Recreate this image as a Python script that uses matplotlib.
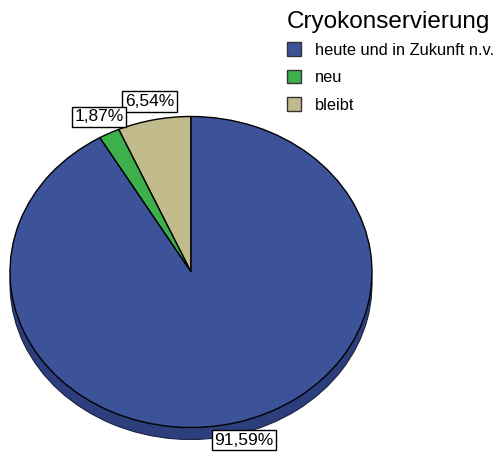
import matplotlib
matplotlib.use("Agg")
import matplotlib.pyplot as plt
from matplotlib.patches import Patch

plt.rcParams['font.family'] = ['Liberation Sans', 'DejaVu Sans']

# Daten (Reihenfolge im Kreis: gegen den Uhrzeigersinn ab 12 Uhr)
categories = ["bleibt", "neu", "heute und in Zukunft n.v."]
values = [6.54, 1.87, 91.59]
colors = ["#C2BB8C", "#3DB04C", "#3D5399"]
side_colors = ["#8E8863", "#2A7E36", "#2C3E7C"]
legend_order = ["heute und in Zukunft n.v.", "neu", "bleibt"]
title = "Cryokonservierung"

W, H = 502, 458
fig = plt.figure(figsize=(W / 100, H / 100), dpi=100)
ax = fig.add_axes([0, 0, 1, 1])

# Pixel-Geometrie der Ellipse
cx, cy = 191, 458 - 272
sx, sy = 181, 155.5
depth = 12 / sy

# Seitenfläche (3D-Rand)
ax.pie(values, colors=side_colors, startangle=90, counterclock=True,
       center=(0, -depth), wedgeprops=dict(edgecolor="#1a2240", linewidth=0.8))

# Oberseite
wedges, texts, autotexts = ax.pie(
    values, colors=colors, startangle=90, counterclock=True,
    autopct=lambda p: f"{p:.2f}%".replace(".", ","), pctdistance=1.12,
    wedgeprops=dict(edgecolor="black", linewidth=1.0),
    textprops=dict(fontsize=12.5, color="black"))

for t in autotexts:
    t.set_bbox(dict(facecolor="white", edgecolor="black", linewidth=1.0,
                    boxstyle="square,pad=0.15"))

ax.set_aspect("auto")
ax.set_xlim((0 - cx) / sx, (W - cx) / sx)
ax.set_ylim((0 - cy) / sy, (H - cy) / sy)
ax.axis("off")

# Legende
fig.text(287 / W, 1 - 22 / H, title, fontsize=17.5, ha="left", va="center")
handles = [Patch(facecolor=colors[categories.index(c)], edgecolor="#333333",
                 linewidth=1.0) for c in legend_order]
leg = fig.legend(handles, legend_order, loc="upper left",
                 bbox_to_anchor=(276 / W, 1 - 31 / H), frameon=False,
                 fontsize=11.8,
                 handlelength=0.85, handleheight=0.85, handletextpad=0.8,
                 labelspacing=0.75, borderpad=0.2)

fig.savefig("out.png", dpi=100)
